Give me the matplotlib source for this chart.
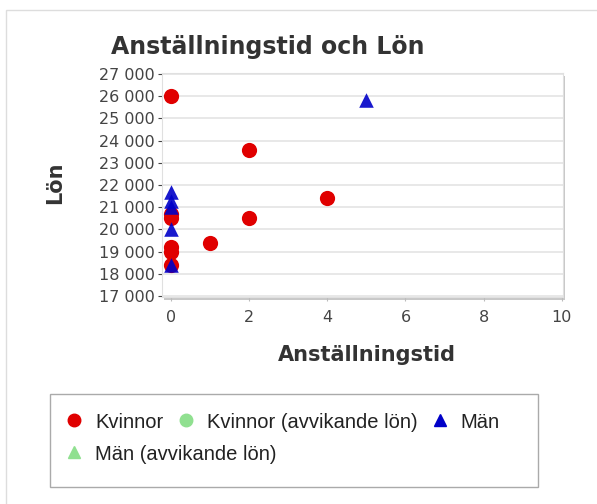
import matplotlib
matplotlib.use("Agg")
import matplotlib.pyplot as plt
from matplotlib.patches import Rectangle
from matplotlib.lines import Line2D

# Data
kvinnor_x = [0, 0, 0, 0, 0, 0, 2, 2, 1, 4]
kvinnor_y = [26000, 20700, 20500, 19200, 19000, 18400, 23600, 20500, 19400, 21400]
man_x = [0, 0, 0, 0, 0, 5]
man_y = [21700, 21300, 21000, 20000, 18400, 25850]

x_ticks = [0, 2, 4, 6, 8, 10]
y_ticks = list(range(17000, 27001, 1000))
y_labels = [f"{v // 1000} 000" for v in y_ticks]

RED = "#e00000"
BLUE = "#0000c8"
GREEN = "#90e090"
W, H = 597, 504

fig = plt.figure(figsize=(W / 100, H / 100), dpi=100)

# outer container frame
fig.patches.append(Rectangle((6 / W, -0.1), 1.2, 1 - 10 / H + 0.1, transform=fig.transFigure,
                             fill=False, edgecolor="#dddddd", lw=1))

ax = fig.add_axes([162 / W, 1 - 297 / H, (563 - 162) / W, (297 - 73) / H])
# shadow behind plot area
fig.patches.append(Rectangle((164 / W, 1 - 300 / H), (563 - 162) / W, (297 - 73) / H,
                             transform=fig.transFigure, facecolor="#c8c8c8", edgecolor="none", zorder=0))
ax.set_zorder(1)
ax.set_facecolor("white")

ax.scatter(kvinnor_x, kvinnor_y, s=120, color=RED, marker="o", zorder=3, linewidths=0)
ax.scatter(man_x, man_y, s=110, color=BLUE, marker="^", zorder=4, alpha=0.9, linewidths=0)

ax.set_xlim(-0.23, 10.03)
ax.set_ylim(16950, 27050)
ax.set_xticks(x_ticks)
ax.set_yticks(y_ticks)
ax.set_yticklabels(y_labels)
ax.grid(axis="y", color="#e4e4e4", lw=1.2)
ax.set_axisbelow(True)
for s in ax.spines.values():
    s.set_color("#e0e0e0")
ax.tick_params(colors="#444444", labelsize=11.5, length=3, width=0.8)
ax.tick_params(axis="y", pad=2)
ax.tick_params(axis="x", pad=6, color="#bbbbbb")

fig.text(268 / W, 1 - 47 / H, "Anställningstid och Lön", ha="center", va="center",
         fontsize=17, fontweight="bold", color="#333333")
fig.text(55 / W, 1 - 183 / H, "Lön", rotation=90, ha="center", va="center",
         fontsize=15, fontweight="bold", color="#333333")
fig.text(367 / W, 1 - 355 / H, "Anställningstid", ha="center", va="center",
         fontsize=15, fontweight="bold", color="#333333")

# legend box
fig.patches.append(Rectangle((50 / W, 1 - 487 / H), (538 - 50) / W, (487 - 394) / H,
                             transform=fig.transFigure, facecolor="white", edgecolor="#aaaaaa", lw=1))

h1 = [Line2D([], [], marker="o", color=RED, ls="none", markersize=9),
      Line2D([], [], marker="o", color=GREEN, ls="none", markersize=9),
      Line2D([], [], marker="^", color=BLUE, ls="none", markersize=9)]
l1 = ["Kvinnor", "Kvinnor (avvikande lön)", "Män"]
h2 = [Line2D([], [], marker="^", color=GREEN, ls="none", markersize=9)]
l2 = ["Män (avvikande lön)"]

leg_font = {"family": "Liberation Sans", "size": 14.5}
leg1 = fig.legend(h1, l1, ncol=3, loc="center left", bbox_to_anchor=(50 / W, 1 - 422 / H),
                  frameon=False, prop=leg_font, handletextpad=0.55, columnspacing=0.6,
                  handlelength=1.0, labelcolor="#222222", borderpad=0.2)
leg2 = fig.legend(h2, l2, ncol=1, loc="center left", bbox_to_anchor=(50 / W, 1 - 454 / H),
                  frameon=False, prop=leg_font, handletextpad=0.55, handlelength=1.0,
                  labelcolor="#222222", borderpad=0.2)

fig.savefig("out.png", dpi=100)
